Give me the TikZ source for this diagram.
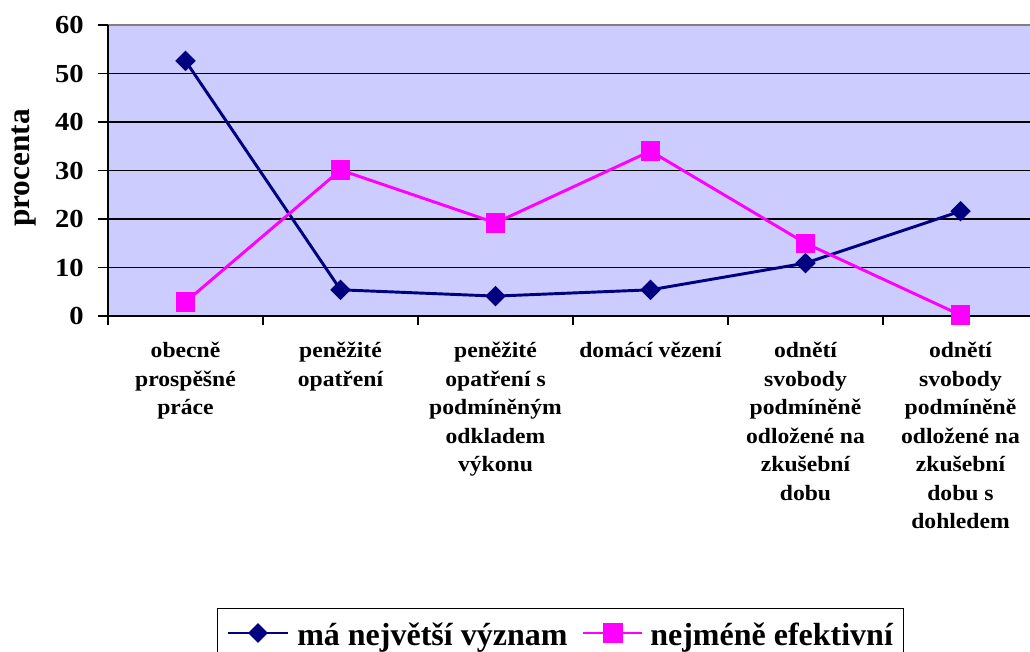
\documentclass[tikz,border=0pt]{standalone}
\usepackage{fontspec}
\setmainfont{Liberation Serif}
\usetikzlibrary{calc, positioning}
\usetikzlibrary{shapes.geometric}
\pgfdeclarelayer{background}
\pgfdeclarelayer{lines}
\pgfsetlayers{background,lines,main}
\definecolor{plotbg}{RGB}{204,204,255}
\definecolor{navycol}{RGB}{0,0,128}
\definecolor{pinkcol}{RGB}{255,0,255}
\def\catw{155}
\def\xzero{108}
\def\yzero{316}
\def\yunit{4.85}
\tikzset{
    ticklabel/.style = {
        font=\fontsize{19.5}{21}\selectfont\bfseries, xscale=1.1, anchor=east, inner sep=0pt
    },
    catlabel/.style = {
        font=\fontsize{16.4}{21.4}\selectfont\bfseries, xscale=1.08, align=center, anchor=north, inner sep=0pt
    },
    legendtext/.style = {
        font=\fontsize{24}{26}\selectfont\bfseries, anchor=base west, inner sep=0pt
    },
    bluemark/.style = {
        diamond, fill=navycol, inner sep=0pt, minimum size=15.5pt
    },
    pinkmark/.style = {
        rectangle, fill=pinkcol, inner sep=0pt, minimum size=14.5pt
    },
    topseries/.style = {draw=navycol, line width=2.2pt},
    lowseries/.style = {draw=pinkcol, line width=2.2pt},
}

\begin{document}
\begin{tikzpicture}[x=0.75pt, y=-0.75pt]
        \clip (0,0) rectangle (1030,652);
        % Plot area and grid
        \begin{pgfonlayer}{background}
            \fill[plotbg] (\xzero,25) rectangle (1040,\yzero);
            \draw[gray, line width=1.2pt] (\xzero,25) -- (1040,25);
            \foreach \v in {10,20,...,50}{
                \draw[black, line width=0.9pt] (\xzero,{\yzero-\v*\yunit}) -- (1040,{\yzero-\v*\yunit});
            }
            \draw[black, line width=1.1pt] (\xzero,\yzero) -- (1040,\yzero);
            \draw[black, line width=1.1pt] (\xzero,25) -- (\xzero,\yzero);
            \foreach \v in {0,10,...,60}{
                \draw[black, line width=1pt] (98,{\yzero-\v*\yunit}) -- (\xzero,{\yzero-\v*\yunit});
                \node[ticklabel] (tick\v) at (84,{\yzero-\v*\yunit}) {\v};
            }
            \foreach \i in {0,...,6}{
                \draw[black, line width=1pt] ({\xzero+\i*\catw},\yzero) -- ++(0,9);
            }
        \end{pgfonlayer}

        % Axis title
        \node[font=\fontsize{23.5}{24}\selectfont\bfseries, rotate=90, inner sep=0pt] (ytitle) at (24,168) {procenta};

        % Category labels
        \foreach \t [count=\i] in {
            {obecně\\prospěšné\\práce},
            {peněžité\\opatření},
            {peněžité\\opatření s\\podmíněným\\odkladem\\výkonu},
            {domácí vězení},
            {odnětí\\svobody\\podmíněně\\odložené na\\zkušební\\dobu},
            {odnětí\\svobody\\podmíněně\\odložené na\\zkušební\\dobu s\\dohledem}}{
            \node[catlabel] (cat\i) at ({\xzero+(\i-0.5)*\catw},342) {\t};
        }

        % Data points
        \foreach \v [count=\i] in {52.6, 5.4, 4.1, 5.4, 10.9, 21.6}{
            \node[bluemark] (top\i) at ({\xzero+(\i-0.5)*\catw},{\yzero-\v*\yunit}) {};
        }
        \foreach \v [count=\i] in {2.9, 30.1, 19.2, 34.0, 15.0, 0.2}{
            \node[pinkmark] (low\i) at ({\xzero+(\i-0.5)*\catw},{\yzero-\v*\yunit}) {};
        }
        \begin{pgfonlayer}{lines}
            \foreach \i [remember=\i as \j (initially 1)] in {2,...,6}{
                \draw[topseries] (top\j.center) -- (top\i.center);
                \draw[lowseries] (low\j.center) -- (low\i.center);
            }
        \end{pgfonlayer}

        % Legend
        \node[draw=black, line width=1pt, minimum width=686*0.75pt, minimum height=60*0.75pt, anchor=north west, inner sep=0pt] (legend) at (217,608) {};
        \coordinate (l1a) at (228,633);
        \coordinate (l1b) at (288,633);
        \node[bluemark, minimum size=15pt] (l1mark) at ($(l1a)!0.5!(l1b)$) {};
        \begin{pgfonlayer}{lines}
            \draw[topseries] (l1a) -- (l1b);
        \end{pgfonlayer}
        \node[legendtext] (l1text) at (297,645) {má největší význam};
        \coordinate (l2a) at (583,633);
        \coordinate (l2b) at (642,633);
        \node[pinkmark, minimum size=15pt] (l2mark) at ($(l2a)!0.5!(l2b)$) {};
        \begin{pgfonlayer}{lines}
            \draw[lowseries] (l2a) -- (l2b);
        \end{pgfonlayer}
        \node[legendtext] (l2text) at (650,645) {nejméně efektivní};
\end{tikzpicture}
\end{document}
